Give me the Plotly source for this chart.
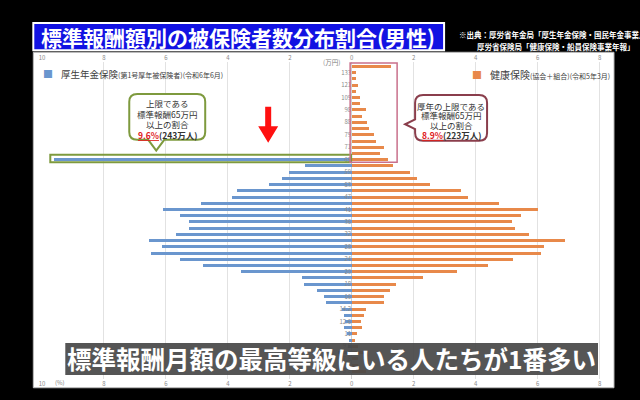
import plotly.graph_objects as go

# ---------------- data (top-to-bottom order, 万円) ----------------
grades = ["139","133","127","121","115","109","103","98","93","88","83","79","75","71","68",
          "65","62","59","56","53","50","47","44","41","38","36","34","32","30","28","26",
          "24","22","20","19","18","17","16","15","14.2","13.4","12.6","11.8","11","10.4",
          "9.8","8.8","7.8","6.8","5.8"]

# 厚生年金保険 (%): no grades above 65
pension = [None]*15 + [9.6, 1.52, 2.02, 2.24, 2.66, 3.69, 3.88, 4.87, 6.11, 5.56, 5.24, 5.26,
                        5.67, 6.55, 6.12, 6.48, 5.54, 4.80, 3.57, 1.62, 1.54, 1.12, 0.90, 0.84,
                        0.30, 0.25, 0.22, 0.25, 0.16, 0.10, 0.12, 0.45, None, None, None]

# 健康保険 (%)
health = [1.27, 0.15, 0.13, 0.21, 0.15, 0.25, 0.25, 0.46, 0.33, 0.49, 0.56, 0.72, 0.79, 1.03,
          0.90, 1.16, 1.32, 1.88, 2.12, 2.51, 3.54, 3.76, 4.75, 6.00, 5.46, 5.18, 5.26, 5.71,
          6.87, 6.20, 6.10, 5.20, 4.40, 3.40, 2.30, 1.42, 1.24, 1.03, 1.03, 0.47, 0.39, 0.30,
          0.33, 0.16, 0.10, 0.20, 0.50, 0.20, 0.20, 0.45]

tick_vals = [-10, -8, -6, -4, -2, 0, 2, 4, 6, 8]
tick_text = ["10", "8", "6", "4", "2", "0", "2", "4", "6", "8"]

title_text = "標準報酬額別の被保険者数分布割合(男性)"
source1 = "※出典：厚労省年金局「厚生年金保険・国民年金事業月報」"
source2 = "厚労省保険局「健康保険・船員保険事業年報」"
legend_left = "厚生年金保険"
legend_left_sub = "(第1号厚年被保険者)(令和6年6月)"
legend_right = "健康保険"
legend_right_sub = "(協会＋組合)(令和5年3月)"
callout_left = ["上限である", "標準報酬65万円", "以上の割合"]
callout_left_pct, callout_left_n = "9.6%", "(243万人)"
callout_right = ["厚年の上限である", "標準報酬65万円", "以上の割合"]
callout_right_pct, callout_right_n = "8.9%", "(223万人)"
caption = "標準報酬月額の最高等級にいる人たちが1番多い"

BLUE = "#6A96CE"
ORANGE = "#E8894A"
FONT = "Noto Sans CJK JP"

# ---------------- geometry helpers (pixel -> paper) ----------------
L, R, T, B = 41.7, 612.0, 62.0, 388.0
W, H = 640, 400


def fx(x):
    return (x - L) / (R - L)


def fy(y):
    return (B - y) / (B - T)


def path(points, closed=True):
    s = ""
    for i, p in enumerate(points):
        if p[0] == "Q":
            s += " Q %.5f,%.5f %.5f,%.5f" % (fx(p[1]), fy(p[2]), fx(p[3]), fy(p[4]))
        else:
            s += (" M" if i == 0 else " L") + " %.5f,%.5f" % (fx(p[0]), fy(p[1]))
    return s + (" Z" if closed else "")


fig = go.Figure()

fig.add_trace(go.Bar(y=grades, x=[(-v if v is not None else None) for v in pension],
                     orientation="h", marker=dict(color=BLUE, line=dict(width=0)),
                     width=0.48, showlegend=False, hoverinfo="skip"))
fig.add_trace(go.Bar(y=grades, x=health, orientation="h",
                     marker=dict(color=ORANGE, line=dict(width=0)),
                     width=0.48, showlegend=False, hoverinfo="skip"))
fig.add_trace(go.Scatter(x=[0], y=[grades[0]], xaxis="x2", mode="markers",
                         marker=dict(opacity=0), showlegend=False, hoverinfo="skip"))

n = len(grades)
cat_bottom_up = grades[::-1]

axis_font = dict(family=FONT, size=6, color="#8A8A8A")
fig.update_layout(
    width=W, height=H,
    margin=dict(l=L, r=W - R, t=T, b=H - B, pad=0),
    paper_bgcolor="black", plot_bgcolor="white",
    barmode="overlay", bargap=0,
    font=dict(family=FONT),
    xaxis=dict(range=[-10, 8.4], tickvals=tick_vals, ticktext=tick_text,
               showgrid=True, gridcolor="#E2E2E2", gridwidth=1,
               zeroline=True, zerolinecolor="#D0D0D0", zerolinewidth=1,
               tickfont=axis_font, ticks="", showline=False, fixedrange=True),
    xaxis2=dict(range=[-10, 8.4], overlaying="x", side="top", anchor="y",
                tickvals=tick_vals, ticktext=tick_text, showgrid=False, zeroline=False,
                tickfont=axis_font, ticks="", showline=False),
    yaxis=dict(type="category", categoryorder="array", categoryarray=cat_bottom_up,
               range=[-1.24, n - 1 + 0.7], showgrid=False, zeroline=False,
               anchor="free", position=fx(351), ticks="", ticklen=0,
               tickfont=dict(family=FONT, size=6, color="#8A8A8A"), showline=False),
)

shapes = []
# white chart panel
shapes.append(dict(type="rect", xref="paper", yref="paper", x0=fx(33), x1=fx(614),
                   y0=fy(397), y1=fy(52), fillcolor="white",
                   line=dict(color="#BBBBBB", width=1), layer="below"))
# title box
shapes.append(dict(type="rect", xref="paper", yref="paper", x0=fx(33), x1=fx(444),
                   y0=fy(50), y1=fy(22), fillcolor="#1212E2",
                   line=dict(color="white", width=2)))
# green box around the 65 pension bar
shapes.append(dict(type="rect", xref="paper", yref="paper", x0=fx(50), x1=fx(351),
                   y0=fy(165), y1=fy(157.5), fillcolor="rgba(0,0,0,0)",
                   line=dict(color="#7E9A3E", width=2)))
# pink box around health >=65
shapes.append(dict(type="rect", xref="paper", yref="paper", x0=fx(350), x1=fx(397),
                   y0=fy(165), y1=fy(63), fillcolor="rgba(0,0,0,0)",
                   line=dict(color="#C9708C", width=1.5)))

# left callout (tail down)
x0, y0, x1, y1, r = 129, 95, 205, 142, 8
pl = [(x0 + r, y0), (x1 - r, y0), ("Q", x1, y0, x1, y0 + r), (x1, y1 - r),
      ("Q", x1, y1, x1 - r, y1), (164, y1), (156, 153), (148, y1), (x0 + r, y1),
      ("Q", x0, y1, x0, y1 - r), (x0, y0 + r), ("Q", x0, y0, x0 + r, y0)]
shapes.append(dict(type="path", xref="paper", yref="paper", path=path(pl),
                   fillcolor="white", line=dict(color="#7E9A3E", width=2)))
# right callout (tail left)
x0, y0, x1, y1, r = 415, 96, 487, 143, 8
pr = [(x0 + r, y0), (x1 - r, y0), ("Q", x1, y0, x1, y0 + r), (x1, y1 - r),
      ("Q", x1, y1, x1 - r, y1), (x0 + r, y1), ("Q", x0, y1, x0, y1 - r),
      (x0, 131), (405, 126), (x0, 121), (x0, y0 + r), ("Q", x0, y0, x0 + r, y0)]
shapes.append(dict(type="path", xref="paper", yref="paper", path=path(pr),
                   fillcolor="white", line=dict(color="#8A3E4C", width=2)))
# red arrow
pa = [(265, 108), (271, 108), (271, 128), (278, 128), (268, 145), (258, 128), (265, 128)]
shapes.append(dict(type="path", xref="paper", yref="paper", path=path(pa),
                   fillcolor="#FF1010", line=dict(width=0)))
# caption box
shapes.append(dict(type="rect", xref="paper", yref="paper", x0=fx(65), x1=fx(598),
                   y0=fy(384), y1=fy(351), fillcolor="rgba(72,72,72,0.93)",
                   line=dict(width=0)))
fig.update_layout(shapes=shapes)

ann = []


def A(x, y, text, size, color="#333333", xanchor="center", **kw):
    ann.append(dict(x=fx(x), y=fy(y), xref="paper", yref="paper", text=text,
                    showarrow=False, xanchor=xanchor, yanchor="middle",
                    font=dict(family=FONT, size=size, color=color), **kw))


A(238, 36, "<b>" + title_text + "</b>", 21, "white")
A(457, 34, "<b>" + source1 + "</b>", 7.5, "white", xanchor="left")
A(637, 46, "<b>" + source2 + "</b>", 7.5, "white", xanchor="right")
A(331, 62, "(万円)", 6.5, "#808080")
A(53, 392, "(%)", 6, "#808080", xanchor="left")

A(48, 74, "■", 10, BLUE)
A(59, 74, legend_left + "<span style='font-size:7px'>" + legend_left_sub + "</span>",
  9.5, "#404040", xanchor="left")
A(477, 75, "■", 10, ORANGE)
A(488, 75, legend_right + "<span style='font-size:7px'>" + legend_right_sub + "</span>",
  10, "#404040", xanchor="left")

for i, t in enumerate(callout_left):
    A(167, 104 + i * 11, t, 8.5, "#333333")
A(167, 137, "<span style='color:#E0201C;text-decoration:underline'><b>" + callout_left_pct +
  "</b></span><b>" + callout_left_n + "</b>", 8.5, "#333333")
for i, t in enumerate(callout_right):
    A(451, 107 + i * 10, t, 8.5, "#333333")
A(451, 137, "<span style='color:#E0201C;text-decoration:underline'><b>" + callout_right_pct +
  "</b></span><b>" + callout_right_n + "</b>", 8.5, "#333333")

A(331, 367, "<b>" + caption + "</b>", 24.5, "white")

fig.update_layout(annotations=ann)
fig.write_html("out.html")
